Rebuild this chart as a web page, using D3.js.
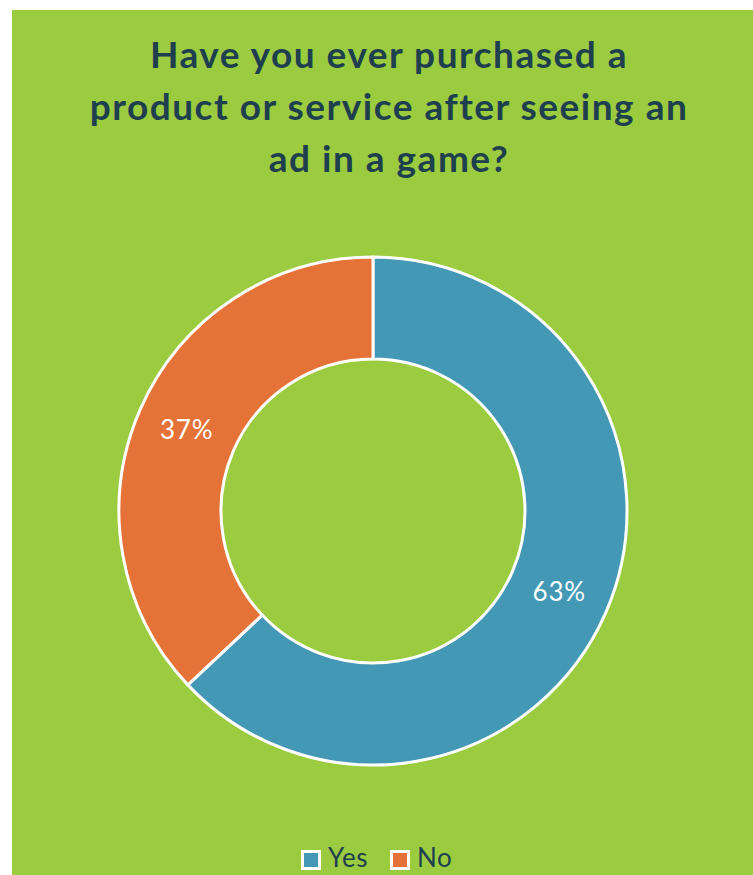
<!DOCTYPE html>
<html>
<head>
<meta charset="utf-8">
<script src="https://cdn.jsdelivr.net/npm/d3@7"></script>
<style>
  html, body { margin: 0; padding: 0; background: #ffffff; }
  svg { display: block; }
</style>
</head>
<body>
<svg id="chart" width="753" height="875"></svg>
<script>
// Survey answers and their shares
const categories = ["Yes", "No"];
const shares = [63, 37];
const colors = ["#4398B6", "#E57236"];
const titleLines = [
  "Have you ever purchased a",
  "product or service after seeing an",
  "ad in a game?"
];

const svg = d3.select("#chart");
const W = 753, H = 875;

// Chart panel
svg.append("rect")
  .attr("x", 12).attr("y", 10)
  .attr("width", W - 12).attr("height", H - 10)
  .attr("fill", "#9BCB3F");

// Title
const title = svg.append("text")
  .attr("text-anchor", "middle")
  .attr("font-family", "Lato, 'Open Sans', sans-serif")
  .attr("font-weight", "bold")
  .attr("font-size", 37)
  .attr("letter-spacing", 1.5)
  .attr("fill", "#1E3F4E");
title.selectAll("tspan")
  .data(titleLines)
  .join("tspan")
  .attr("x", 389)
  .attr("y", (d, i) => 68 + i * 52)
  .text(d => d);

// Donut
const cx = 373, cy = 511, outerR = 254, innerR = 152;
const pie = d3.pie().sort(null).value(d => d.value);
const data = categories.map((c, i) => ({ name: c, value: shares[i], color: colors[i] }));
const arcs = pie(data);
const arc = d3.arc().innerRadius(innerR).outerRadius(outerR);
const labelArc = d3.arc().innerRadius((innerR + outerR) / 2).outerRadius((innerR + outerR) / 2);

const g = svg.append("g").attr("transform", `translate(${cx},${cy})`);
g.selectAll("path.slice")
  .data(arcs)
  .join("path")
  .attr("class", "slice")
  .attr("d", arc)
  .attr("fill", d => d.data.color)
  .attr("stroke", "#ffffff")
  .attr("stroke-width", 3)
  .attr("stroke-linejoin", "round");

g.selectAll("text.pct")
  .data(arcs)
  .join("text")
  .attr("class", "pct")
  .attr("transform", d => `translate(${labelArc.centroid(d)})`)
  .attr("text-anchor", "middle")
  .attr("dy", "0.35em")
  .attr("font-family", "Lato, 'Open Sans', sans-serif")
  .attr("font-size", 26)
  .attr("letter-spacing", 0.8)
  .attr("fill", "#ffffff")
  .text(d => d.data.value + "%");

// Legend
const legendX = [301, 390];
const legend = svg.append("g");
const items = legend.selectAll("g.item")
  .data(data)
  .join("g")
  .attr("class", "item")
  .attr("transform", (d, i) => `translate(${legendX[i]},850)`);
items.append("rect")
  .attr("x", 1.5).attr("y", 1.5)
  .attr("width", 17).attr("height", 17)
  .attr("fill", d => d.color)
  .attr("stroke", "#ffffff")
  .attr("stroke-width", 3);
items.append("text")
  .attr("x", 27)
  .attr("y", 17)
  .attr("font-family", "Lato, 'Open Sans', sans-serif")
  .attr("font-size", 26)
  .attr("letter-spacing", 0.6)
  .attr("fill", "#1E3F4E")
  .text(d => d.name);
</script>
</body>
</html>
